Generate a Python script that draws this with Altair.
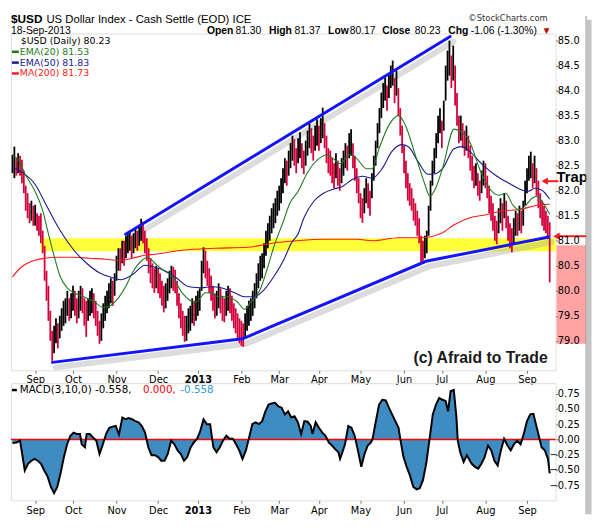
import altair as alt
import pandas as pd

# ---------------- price bars (daily, trading-day index) ----------------
hi = [82.72, 82.88, 82.65, 82.75, 82.70, 82.62, 82.40, 82.10, 81.95, 81.75, 81.80, 81.70,
      81.72, 81.55, 81.50, 81.55, 81.20, 80.90, 80.40, 80.10, 79.60, 79.20, 79.30, 79.45, 79.35, 79.50, 79.65, 79.80, 79.85, 80.00, 79.85, 79.95,
      80.10, 80.00, 79.85, 80.00, 80.10, 80.05, 79.85, 79.80, 79.85, 80.00, 80.05, 79.95, 79.80, 79.60, 79.40, 79.55, 79.75, 79.90, 80.00, 80.15, 80.25, 80.20, 80.35,
      80.70, 80.85, 80.85, 81.00, 81.00, 81.10, 81.15, 81.20, 81.10, 81.15, 81.25, 81.20, 81.30, 81.44, 81.38, 81.20, 81.05, 80.85, 80.65, 80.55, 80.45, 80.50,
      80.45, 80.35, 80.20, 80.10, 80.15, 80.25, 80.40, 80.50, 80.48, 80.42, 80.20, 79.95, 79.75, 79.60, 79.50, 79.50, 79.65, 79.70, 79.85, 79.80, 79.90,
      80.00, 80.05, 80.60, 80.87, 80.80, 80.60, 80.45, 80.30, 80.10, 79.95, 80.00, 80.15, 80.05, 79.90, 79.85, 80.00, 80.10, 80.05, 79.90, 79.75, 79.65, 79.55, 79.45,
      79.40, 79.35, 79.55, 79.70, 79.80, 79.85, 80.00, 80.15, 80.35, 80.55, 80.70, 80.75, 80.95, 81.20, 81.35, 81.50, 81.65, 81.75, 81.85, 82.00,
      82.10, 82.25, 82.45, 82.65, 82.60, 82.80, 82.95, 83.10, 83.03, 82.85, 83.05, 83.17, 82.95, 82.80, 83.00, 83.20, 83.35, 83.25, 83.10, 83.30, 83.43,
      83.30, 83.45, 83.66, 83.35, 83.10, 82.85, 82.80, 82.65, 82.55, 82.75, 82.60, 82.45, 82.65, 82.80, 82.95, 82.90, 83.15, 83.23, 82.95, 82.70, 82.45, 82.25,
      81.95, 81.85, 82.05, 82.25, 82.15, 82.00, 82.35, 82.70, 83.00, 83.35, 83.65, 83.96, 84.15, 84.30, 84.10, 84.35, 84.50, 84.60, 84.25, 84.40, 84.05, 83.65, 83.30,
      82.90, 82.60, 82.35, 82.15, 82.05, 81.85, 81.75, 81.60, 81.45, 81.10, 81.00, 81.10, 81.20, 81.70, 82.20, 82.60, 82.85, 83.15, 83.50, 83.65,
      83.40, 83.80, 84.50, 84.80, 85.00, 84.70, 84.90, 84.50, 83.95, 83.50, 83.50, 83.35, 83.20, 83.30, 83.10, 82.90, 82.70, 82.50, 82.55, 82.35, 82.20, 82.40, 82.60,
      82.55, 82.30, 82.10, 81.90, 81.75, 81.50, 81.40, 81.65, 81.85, 81.75, 81.95, 81.80, 81.50, 81.35, 81.25, 81.45, 81.60, 81.55, 81.70, 81.60, 81.80, 82.20,
      82.45, 82.70, 82.78, 82.55, 82.70, 82.45, 82.20, 81.95, 81.80, 81.70, 81.60, 81.50, 81.37]
lo = [82.35, 82.25, 82.30, 82.35, 82.30, 82.15, 81.95, 81.60, 81.45, 81.35, 81.40, 81.30,
      81.30, 81.20, 81.10, 80.95, 80.75, 80.20, 79.80, 79.40, 79.00, 78.60, 78.75, 78.95, 78.85, 79.05, 79.20, 79.30, 79.35, 79.50, 79.40, 79.45,
      79.60, 79.50, 79.35, 79.45, 79.60, 79.55, 79.30, 79.08, 79.40, 79.50, 79.55, 79.45, 79.30, 79.10, 78.94, 79.00, 79.25, 79.40, 79.55, 79.65, 79.75, 79.70, 79.90,
      80.20, 80.40, 80.40, 80.55, 80.50, 80.65, 80.75, 80.80, 80.65, 80.75, 80.85, 80.80, 80.90, 81.00, 80.95, 80.75, 80.60, 80.35, 80.15, 80.05, 79.96, 80.05,
      79.95, 79.85, 79.70, 79.57, 79.65, 79.80, 79.95, 80.05, 80.00, 79.95, 79.70, 79.45, 79.25, 79.10, 78.98, 79.00, 79.15, 79.20, 79.35, 79.30, 79.40,
      79.50, 79.60, 80.00, 80.35, 80.25, 80.10, 79.95, 79.80, 79.60, 79.45, 79.50, 79.65, 79.55, 79.40, 79.37, 79.50, 79.60, 79.55, 79.40, 79.25, 79.15, 79.05, 78.95,
      78.90, 78.88, 79.05, 79.20, 79.30, 79.40, 79.50, 79.65, 79.85, 80.05, 80.20, 80.25, 80.45, 80.70, 80.85, 81.00, 81.15, 81.25, 81.35, 81.50,
      81.60, 81.75, 81.95, 82.15, 82.10, 82.30, 82.45, 82.60, 82.50, 82.35, 82.55, 82.65, 82.45, 82.33, 82.50, 82.70, 82.85, 82.75, 82.60, 82.80, 82.90,
      82.80, 82.95, 83.05, 82.85, 82.55, 82.35, 82.30, 82.15, 82.05, 82.25, 82.10, 82.00, 82.15, 82.30, 82.45, 82.40, 82.65, 82.70, 82.45, 82.20, 81.95, 81.75,
      81.45, 81.36, 81.55, 81.75, 81.65, 81.50, 81.85, 82.20, 82.50, 82.85, 83.15, 83.45, 83.65, 83.80, 83.60, 83.85, 84.05, 84.10, 83.75, 83.90, 83.50, 83.10, 82.75,
      82.35, 82.05, 81.80, 81.70, 81.60, 81.40, 81.30, 81.10, 80.95, 80.55, 80.60, 80.65, 80.75, 81.10, 81.60, 82.10, 82.35, 82.65, 82.95, 83.15,
      82.85, 83.20, 83.80, 84.20, 84.30, 84.05, 84.20, 83.70, 83.30, 82.95, 83.00, 82.85, 82.70, 82.80, 82.65, 82.40, 82.20, 82.05, 82.10, 81.90, 81.80, 81.95, 82.10,
      82.05, 81.85, 81.55, 81.40, 81.20, 81.00, 80.93, 81.15, 81.35, 81.20, 81.45, 81.25, 81.00, 80.85, 80.77, 80.95, 81.10, 81.10, 81.20, 81.15, 81.30, 81.70,
      81.95, 82.20, 82.25, 82.05, 82.15, 81.90, 81.65, 81.45, 81.30, 81.20, 81.15, 81.05, 80.17]
cl = [82.55, 82.60, 82.45, 82.55, 82.50, 82.40, 82.20, 81.90, 81.70, 81.55, 81.60, 81.45,
      81.50, 81.40, 81.30, 81.25, 81.00, 80.50, 80.10, 79.70, 79.30, 78.90, 79.05, 79.20, 79.10, 79.30, 79.45, 79.55, 79.60, 79.75, 79.60, 79.70,
      79.85, 79.75, 79.60, 79.70, 79.85, 79.80, 79.60, 79.45, 79.60, 79.75, 79.80, 79.70, 79.55, 79.35, 79.15, 79.30, 79.50, 79.65, 79.80, 79.90, 80.00, 79.95, 80.15,
      80.45, 80.65, 80.60, 80.80, 80.75, 80.90, 80.95, 81.00, 80.85, 80.95, 81.05, 81.00, 81.10, 81.20, 81.15, 80.95, 80.80, 80.60, 80.40, 80.30, 80.20, 80.30,
      80.20, 80.10, 79.95, 79.80, 79.90, 80.00, 80.15, 80.30, 80.25, 80.20, 79.95, 79.70, 79.50, 79.35, 79.20, 79.25, 79.40, 79.45, 79.60, 79.50, 79.65,
      79.75, 79.80, 80.30, 80.60, 80.50, 80.35, 80.20, 80.05, 79.85, 79.70, 79.75, 79.90, 79.80, 79.65, 79.60, 79.75, 79.85, 79.80, 79.65, 79.50, 79.40, 79.30, 79.20,
      79.15, 79.10, 79.30, 79.45, 79.55, 79.60, 79.75, 79.90, 80.10, 80.30, 80.45, 80.50, 80.70, 80.95, 81.10, 81.25, 81.40, 81.50, 81.60, 81.75,
      81.85, 82.00, 82.20, 82.40, 82.35, 82.55, 82.70, 82.85, 82.75, 82.60, 82.80, 82.90, 82.70, 82.55, 82.75, 82.95, 83.10, 83.00, 82.85, 83.05, 83.15,
      83.05, 83.20, 83.35, 83.10, 82.80, 82.60, 82.55, 82.40, 82.30, 82.50, 82.35, 82.20, 82.40, 82.55, 82.70, 82.65, 82.90, 82.95, 82.70, 82.45, 82.20, 82.00,
      81.70, 81.60, 81.80, 82.00, 81.90, 81.75, 82.10, 82.45, 82.75, 83.10, 83.40, 83.70, 83.90, 84.05, 83.85, 84.10, 84.30, 84.35, 84.00, 84.15, 83.75, 83.35, 83.00,
      82.60, 82.30, 82.05, 81.90, 81.80, 81.60, 81.50, 81.35, 81.20, 80.85, 80.75, 80.85, 80.95, 81.40, 81.90, 82.35, 82.60, 82.90, 83.20, 83.40,
      83.10, 83.50, 84.10, 84.50, 84.65, 84.35, 84.55, 84.10, 83.60, 83.20, 83.25, 83.10, 82.90, 83.05, 82.85, 82.60, 82.40, 82.25, 82.30, 82.10, 81.95, 82.15, 82.35,
      82.30, 82.05, 81.80, 81.65, 81.45, 81.25, 81.15, 81.40, 81.60, 81.45, 81.70, 81.50, 81.25, 81.10, 81.00, 81.20, 81.35, 81.30, 81.45, 81.35, 81.55, 81.95,
      82.20, 82.45, 82.50, 82.30, 82.40, 82.15, 81.90, 81.70, 81.55, 81.40, 81.35, 81.30, 80.23]

tick_idx = [12, 32, 55, 77, 98, 121, 141, 162, 184, 207, 227, 250, 272]
tick_lab = ["Sep", "Oct", "Nov", "Dec", "2013", "Feb", "Mar", "Apr", "May", "Jun", "Jul", "Aug", "Sep"]
price_ticks = [79.0, 79.5, 80.0, 80.5, 81.0, 81.5, 82.0, 82.5, 83.0, 83.5, 84.0, 84.5, 85.0]
macd_ticks = [-0.75, -0.5, -0.25, 0.0, 0.25, 0.5, 0.75]

# ---------------- moving averages (read points) ----------------
ema20_i = [0, 3.1, 6.7, 11.9, 16, 18.6, 22.2, 25.3, 28.9, 32.5, 37.6, 42.8, 47.9, 51, 56.2, 59.8, 63.4, 68.6, 71.6, 75.3,
           79.4, 84.5, 89.7, 96.9, 102.1, 105.2, 108.8, 113.9, 119.1, 122.7, 125.8, 130.9, 134.5, 138.1, 143.3, 146.4, 151, 156.2, 161.3, 166.5,
           169.6, 173.2, 178.4, 182, 187.1, 190.2, 193.8, 199, 204.1, 207.7, 212.9, 218, 220.6, 223.7, 227.3, 233.5, 237.6, 241.8, 246.9, 252.1,
           257.2, 260.8, 264.4, 267.5, 271.1, 274.7, 277.3, 279.9, 284]
ema20_v = [82.70, 82.62, 82.33, 81.99, 81.60, 81.20, 80.67, 80.28, 80.06, 79.96, 79.88, 79.79, 79.67, 79.69, 79.87, 80.08, 80.36, 80.61, 80.67, 80.55,
           80.42, 80.28, 79.96, 79.77, 79.96, 79.96, 79.88, 79.88, 79.77, 79.63, 79.77, 80.02, 80.42, 80.87, 81.40, 81.73, 81.99, 82.38, 82.62, 82.72,
           82.64, 82.54, 82.72, 82.64, 82.44, 82.44, 82.84, 83.31, 83.50, 83.31, 82.72, 82.13, 81.89, 82.05, 82.44, 83.23, 83.17, 82.97, 82.44, 82.05,
           81.91, 81.95, 81.72, 81.62, 81.70, 81.85, 81.89, 81.79, 81.53]
ema50_i = [0, 4.6, 11.9, 18.6, 25.3, 32.5, 39.2, 45.9, 53.1, 57.2, 63.4, 70.1, 75.3, 79.4, 86.6, 93.3, 100, 105.2, 110.3, 117.5,
           122.7, 127.8, 133, 138.1, 143.3, 147.4, 151, 154.1, 159.3, 164.4, 169.6, 174.7, 179.9, 185.1, 190.2, 195.4, 200.5, 205.7, 209.3, 214.4,
           219.6, 223.7, 227.3, 233.5, 237.6, 241.8, 249, 255.7, 262.4, 269.6, 272.7, 276.3, 279.9, 284]
ema50_v = [82.48, 82.38, 82.13, 81.66, 81.20, 80.81, 80.55, 80.36, 80.26, 80.22, 80.32, 80.51, 80.47, 80.42, 80.26, 80.08, 80.06, 80.08, 80.06, 79.96,
           79.88, 79.88, 80.02, 80.28, 80.61, 80.95, 81.14, 81.46, 81.79, 81.95, 82.03, 82.09, 82.23, 82.29, 82.25, 82.44, 82.78, 82.92, 82.88, 82.58,
           82.33, 82.34, 82.44, 82.84, 82.88, 82.78, 82.50, 82.30, 82.15, 82.01, 81.99, 82.05, 82.01, 81.83]
ma200_i = [0, 4.6, 11.9, 17, 23.7, 32.5, 40.7, 49.5, 56.2, 63.4, 70.1, 75.3, 89.7, 107.2, 124.2, 141.2, 150, 164.4, 182, 190.2,
           204.1, 216, 227.3, 233.5, 241.8, 250.5, 259.3, 267.5, 276.3, 284]
ma200_v = [80.28, 80.47, 80.61, 80.65, 80.67, 80.67, 80.65, 80.63, 80.61, 80.65, 80.71, 80.73, 80.81, 80.85, 80.87, 80.97, 81.00, 81.03, 81.03, 81.00,
           81.06, 81.06, 81.16, 81.32, 81.46, 81.52, 81.60, 81.62, 81.70, 81.73]

# ---------------- MACD(3,10,0) (read points) ----------------
macd_i = [0, 2.2, 4, 5.7, 6.5, 8.2, 10, 11.7, 13.4, 15.1, 16.8, 18.6, 20.3, 22, 23.7, 25.4, 27.2, 28.9, 30.6, 32.3,
          34, 35.7, 36.6, 38.3, 39.2, 40.9, 42.6, 44.3, 46, 47.8, 49.5, 51.2, 52.9, 54.6, 56.3, 58.1, 59.8, 61.5, 63.2, 64.9,
          66.7, 68.4, 70.1, 71.8, 73.5, 75.3, 77, 78.7, 80.4, 82.1, 83.9, 85.6, 87.3, 89, 90.7, 92.4, 94.2, 95.9, 97.6, 99.3,
          101, 102.7, 104.5, 106.2, 107.9, 109.6, 111.3, 113.1, 114.8, 116.5, 118.2, 119.9, 121.6, 123.4, 125.1, 126.8, 128.5, 130.3, 132, 133.7,
          135.4, 137.1, 138.8, 140.6, 142.3, 144, 145.7, 147.4, 149.1, 150.9, 152.6, 154.3, 156, 157.7, 158.6, 160.3, 162, 163.8, 165.5, 167.2,
          168.9, 170.6, 172.3, 173.2, 174.1, 175.8, 177.5, 179.2, 180.9, 182.6, 184.4, 186.1, 187.8, 189.5, 190.4, 192.1, 193.8, 195.5, 197.3, 199,
          200.7, 202.4, 204.1, 205, 206.7, 208.4, 210.1, 211.9, 213.6, 215.3, 217, 218.7, 220.5, 222.2, 223.9, 225.6, 227.3, 229, 230.3, 231.6,
          233.3, 234.7, 235.4, 236.7, 238.5, 240.2, 242.8, 244.5, 246.2, 247.9, 249.6, 251.4, 253.1, 254.8, 256.5, 258.2, 259.9, 261.7, 263.4, 265.1,
          266.8, 268.6, 270.3, 272, 273.7, 275.4, 276.3, 278, 279.7, 281.4, 283.1, 284]
macd_v = [-0.06, -0.05, -0.02, -0.35, -0.51, -0.40, -0.35, -0.32, -0.35, -0.40, -0.51, -0.61, -0.78, -0.88, -0.78, -0.56, -0.29, -0.08, 0.06, 0.11,
          0.09, 0.09, -0.08, -0.13, 0.09, 0.09, 0.03, -0.02, -0.24, -0.08, 0.09, 0.19, 0.21, 0.22, 0.08, 0.36, 0.33, 0.35, 0.33, 0.30,
          0.28, 0.22, 0.11, -0.13, -0.26, -0.26, -0.29, -0.35, -0.35, -0.24, -0.02, -0.08, -0.18, -0.24, -0.35, -0.29, -0.13, -0.05, 0.01, 0.14,
          0.33, 0.25, 0.25, -0.13, -0.21, -0.13, -0.02, 0.06, 0.01, 0.01, -0.08, -0.18, -0.32, -0.18, 0.03, 0.25, 0.28, 0.25, 0.30, 0.46,
          0.57, 0.59, 0.60, 0.54, 0.52, 0.41, 0.46, 0.36, 0.38, 0.28, 0.09, 0.30, 0.29, 0.22, 0.09, 0.28, 0.19, 0.11, 0.06, -0.05,
          -0.10, -0.16, -0.21, -0.32, -0.24, -0.08, 0.22, 0.19, 0.06, -0.18, -0.45, -0.24, -0.10, -0.05, 0.01, 0.30, 0.57, 0.65, 0.64, 0.52,
          0.41, 0.30, 0.19, 0.01, -0.29, -0.45, -0.59, -0.78, -0.82, -0.80, -0.67, -0.40, 0.01, 0.41, 0.57, 0.68, 0.65, 0.63, 0.46, 0.79,
          0.81, 0.36, -0.02, -0.21, -0.37, -0.26, -0.40, -0.45, -0.48, -0.40, -0.29, -0.10, -0.18, -0.35, -0.43, -0.18, 0.01, -0.10, -0.18, -0.08,
          -0.02, -0.08, 0.09, 0.30, 0.41, 0.42, 0.30, 0.09, -0.13, -0.18, -0.32, -0.558]

# ---------------- annotations ----------------
trend_up_i = [59.8, 231.4]
trend_up_v = [81.13, 85.08]
trend_lo_i = [21.1, 121.6, 218.6, 283.0]
trend_lo_v = [78.57, 79.04, 80.59, 81.07]
band_i = [15.0, 287.1]
band_v = [80.79, 81.05]
zone_v = [78.94, 80.91]
trap_arrow_v = [82.19]
break_arrow_v = [81.09]

# ---------------- frames ----------------
n = min(len(hi), len(lo), len(cl))
bars = pd.DataFrame({"i": list(range(n)), "hi": hi[:n], "lo": lo[:n], "cl": cl[:n]})
prev = bars["cl"].shift(1)
bars["c"] = ["dn" if (p == p and c < p) else "up" for c, p in zip(bars["cl"], prev)]

e20 = pd.DataFrame({"i": ema20_i, "v": ema20_v})
e50 = pd.DataFrame({"i": ema50_i, "v": ema50_v})
m200 = pd.DataFrame({"i": ma200_i, "v": ma200_v})
macd = pd.DataFrame({"i": macd_i, "v": macd_v})
tu = pd.DataFrame({"i": trend_up_i, "v": trend_up_v, "g": "u"})
tl = pd.DataFrame({"i": trend_lo_i, "v": trend_lo_v, "g": "l"})
trends = pd.concat([tu, tl], ignore_index=True)
shadow = trends.copy()
shadow["i"] = shadow["i"] + 1.8
shadow["v"] = shadow["v"] - 0.1
band = pd.DataFrame({"x1": [band_i[0]], "x2": [band_i[1]], "y1": [band_v[0]], "y2": [band_v[1]]})
zone = pd.DataFrame({"y1": [zone_v[0]], "y2": [zone_v[1]]})
one = pd.DataFrame({"k": [0]})

W = 553
PH = 342
MH = 119

xs = alt.Scale(domain=[-0.8, 287.1], nice=False, zero=False)
ps = alt.Scale(domain=[78.41, 85.14], nice=False, zero=False)
ms = alt.Scale(domain=[-1.0, 0.922], nice=False, zero=False)

lab_expr = "[" + ",".join("'%s'" % s for s in tick_lab) + "][indexof([" + ",".join(str(v) for v in tick_idx) + "], datum.value)]"


def xaxis(pad):
    return alt.Axis(values=tick_idx, labelExpr=lab_expr, title=None, grid=False, domain=False,
                    tickSize=3, tickColor="#777", labelPadding=pad, labelFontSize=10, labelColor="#000",
                    labelFont="DejaVu Sans", labelOverlap=False, labelFlush=False,
                    labelFontWeight={"expr": "datum.value == 98 ? 'bold' : 'normal'"})


pax = alt.Axis(orient="right", values=price_ticks, format=".1f", title=None, grid=False, domain=False,
               tickSize=2, tickColor="#777", labelAlign="right", labelPadding=22, labelFontSize=10,
               labelColor="#000", labelFont="DejaVu Sans", labelOverlap=False, labelFlush=False, zindex=1)
max_ = alt.Axis(orient="right", values=macd_ticks, format=".2f", title=None, grid=False, domain=False,
                tickSize=2, tickColor="#777", labelAlign="right", labelPadding=22, labelFontSize=10,
                labelColor="#000", labelFont="DejaVu Sans", labelOverlap=False, labelFlush=False, zindex=1)


def PX(f):
    return alt.X(f, scale=xs, axis=xaxis(1))


def PY(f):
    return alt.Y(f, scale=ps, axis=pax)


def MX(f):
    return alt.X(f, scale=xs, axis=xaxis(2))


def MY(f):
    return alt.Y(f, scale=ms, axis=max_)


def T(s, x, y, size=10, weight="normal", color="#000", align="left", baseline="middle",
      font="DejaVu Sans", opacity=1.0):
    return alt.Chart(one).mark_text(text=s, fontSize=size, fontWeight=weight, color=color, align=align,
                                    baseline=baseline, font=font, opacity=opacity).encode(
        x=alt.value(x), y=alt.value(y))


def R(x1, x2, y1, y2, color, width=1.0):
    return alt.Chart(one).mark_rule(color=color, strokeWidth=width).encode(
        x=alt.value(x1), x2=alt.value(x2), y=alt.value(y1), y2=alt.value(y2))


# ---------------- price panel ----------------
band_l = alt.Chart(band).mark_rect(color="#ffff3a").encode(x=PX("x1:Q"), x2="x2", y=PY("y1:Q"), y2="y2")
shadow_l = alt.Chart(shadow).mark_line(color="#9a9a9a", strokeWidth=6, opacity=0.35, strokeCap="round").encode(
    x=PX("i:Q"), y=PY("v:Q"), detail="g:N")
bars_l = alt.Chart(bars).mark_rule(strokeWidth=1.8).encode(
    x=PX("i:Q"), y=PY("lo:Q"), y2="hi",
    color=alt.Color("c:N", scale=alt.Scale(domain=["up", "dn"], range=["#000000", "#d4003a"]), legend=None))
m200_l = alt.Chart(m200).mark_line(color="#ff1a1a", strokeWidth=1.1, interpolate="monotone").encode(x=PX("i:Q"), y=PY("v:Q"))
e50_l = alt.Chart(e50).mark_line(color="#1a1a8c", strokeWidth=1.1, interpolate="monotone").encode(x=PX("i:Q"), y=PY("v:Q"))
e20_l = alt.Chart(e20).mark_line(color="#1f7a1f", strokeWidth=1.1, interpolate="monotone").encode(x=PX("i:Q"), y=PY("v:Q"))
trend_l = alt.Chart(trends).mark_line(color="#1414ff", strokeWidth=3, strokeCap="round").encode(
    x=PX("i:Q"), y=PY("v:Q"), detail="g:N")
dot_l = alt.Chart(tl.tail(1)).mark_point(shape="circle", filled=True, size=18, color="#1414ff", opacity=1).encode(
    x=PX("i:Q"), y=PY("v:Q"))
zone_l = alt.Chart(zone).mark_rect(color="#ffa3a3").encode(x=alt.value(554), x2=alt.value(584), y=PY("y1:Q"), y2="y2")

ta = pd.DataFrame({"p": trap_arrow_v})
ba = pd.DataFrame({"p": break_arrow_v})
arr1 = alt.Chart(ta).mark_rule(color="#ff1a1a", strokeWidth=2).encode(x=alt.value(543), x2=alt.value(556), y=PY("p:Q"))
head1 = alt.Chart(ta).mark_point(shape="triangle-left", filled=True, size=55, color="#ff1a1a", opacity=1).encode(
    x=alt.value(542), y=PY("p:Q"))
arr2 = alt.Chart(ba).mark_rule(color="#ff1a1a", strokeWidth=2).encode(x=alt.value(555), x2=alt.value(586), y=PY("p:Q"))
head2 = alt.Chart(ba).mark_point(shape="triangle-left", filled=True, size=55, color="#ff1a1a", opacity=1).encode(
    x=alt.value(554), y=PY("p:Q"))

hdr_y2 = 0
texts = [
    T("$USD", 0, -20, 12, "bold", "#000", baseline="top", font="Liberation Sans"),
    T("US Dollar Index - Cash Settle (EOD)  ICE", 36, -19.5, 11.5, "normal", "#000", baseline="top",
      font="Liberation Sans Narrow, Liberation Sans"),
    T("\u00a9StockCharts.com", 545, -19.5, 8.5, "normal", "#333", align="right", baseline="top"),
    T("18-Sep-2013", 0, hdr_y2, 10.5, "normal", "#000", baseline="alphabetic", font="Liberation Sans Narrow, Liberation Sans"),
    T("Open", 199, hdr_y2, 10.5, "bold", baseline="alphabetic", font="Liberation Sans"),
    T("81.30", 228, hdr_y2, 10.5, baseline="alphabetic", font="Liberation Sans"),
    T("High", 262, hdr_y2, 10.5, "bold", baseline="alphabetic", font="Liberation Sans"),
    T("81.37", 288, hdr_y2, 10.5, baseline="alphabetic", font="Liberation Sans"),
    T("Low", 322, hdr_y2, 10.5, "bold", baseline="alphabetic", font="Liberation Sans"),
    T("80.17", 344, hdr_y2, 10.5, baseline="alphabetic", font="Liberation Sans"),
    T("Close", 377, hdr_y2, 10.5, "bold", baseline="alphabetic", font="Liberation Sans"),
    T("80.23", 410, hdr_y2, 10.5, baseline="alphabetic", font="Liberation Sans"),
    T("Chg", 444, hdr_y2, 10.5, "bold", baseline="alphabetic", font="Liberation Sans"),
    T("-1.06 (-1.30%)", 467, hdr_y2, 10.5, baseline="alphabetic", font="Liberation Sans"),
    T("\u25bc", 541, hdr_y2 - 1, 7.5, color="#cc0000", baseline="alphabetic"),
    T("$USD (Daily) 80.23", 10, 8, 9.5),
    R(1, 8, 18.5, 18.5, "#1f7a1f", 2.5), T("EMA(20) 81.53", 9, 18.5, 9.5, color="#1f7a1f"),
    R(1, 8, 29.5, 29.5, "#1a1a8c", 2.5), T("EMA(50) 81.83", 9, 29.5, 9.5, color="#1a1a8c"),
    R(1, 8, 40.5, 40.5, "#ff1a1a", 2.5), T("MA(200) 81.73", 9, 40.5, 9.5, color="#ff1a1a"),
    T("(c) Afraid to Trade", 545, 330, 16, "bold", "#1a1a1a", align="right", font="Liberation Sans"),
    T("Trap", 554, 146, 15, "bold", "#000", font="Liberation Sans"),
    R(584, 584, -18, 488, "#8a8a8a", 1),
    R(587, 587, -14, 488, "#c4c4c4", 5),
]

price = alt.layer(band_l, shadow_l, bars_l, m200_l, e50_l, e20_l, trend_l, dot_l, zone_l,
                  arr1, head1, arr2, head2, *texts).properties(width=W, height=PH)

# ---------------- MACD panel ----------------
zero = pd.DataFrame({"z": [0.0]})
area_l = alt.Chart(macd).mark_area(color="#3f8cc2", opacity=1).encode(x=MX("i:Q"), y=MY("v:Q"), y2=alt.Y2Datum(0))
zero_l = alt.Chart(zero).mark_rule(color="#ff0000", strokeWidth=1.5).encode(y=MY("z:Q"))
line_l = alt.Chart(macd).mark_line(color="#000", strokeWidth=2).encode(x=MX("i:Q"), y=MY("v:Q"))
mtexts = [
    R(1, 6, 7, 7, "#000", 2.5),
    T("MACD(3,10,0) -0.558,", 9, 7, 10.5),
    T("0.000,", 134, 7, 10.5, color="#ff0000"),
    T("-0.558", 172, 7, 10.5, color="#3399cc"),
]
macd_c = alt.layer(area_l, zero_l, line_l, *mtexts).properties(width=W, height=MH)

chart = alt.vconcat(price, macd_c, spacing=13, bounds="flush",
                    padding={"left": 0, "top": 0, "right": 0, "bottom": 0}).configure_view(
    stroke="#8c8c8c", strokeWidth=1).configure(font="DejaVu Sans", background="white")

chart.save("out.html", embed_options={"renderer": "svg", "actions": False})
